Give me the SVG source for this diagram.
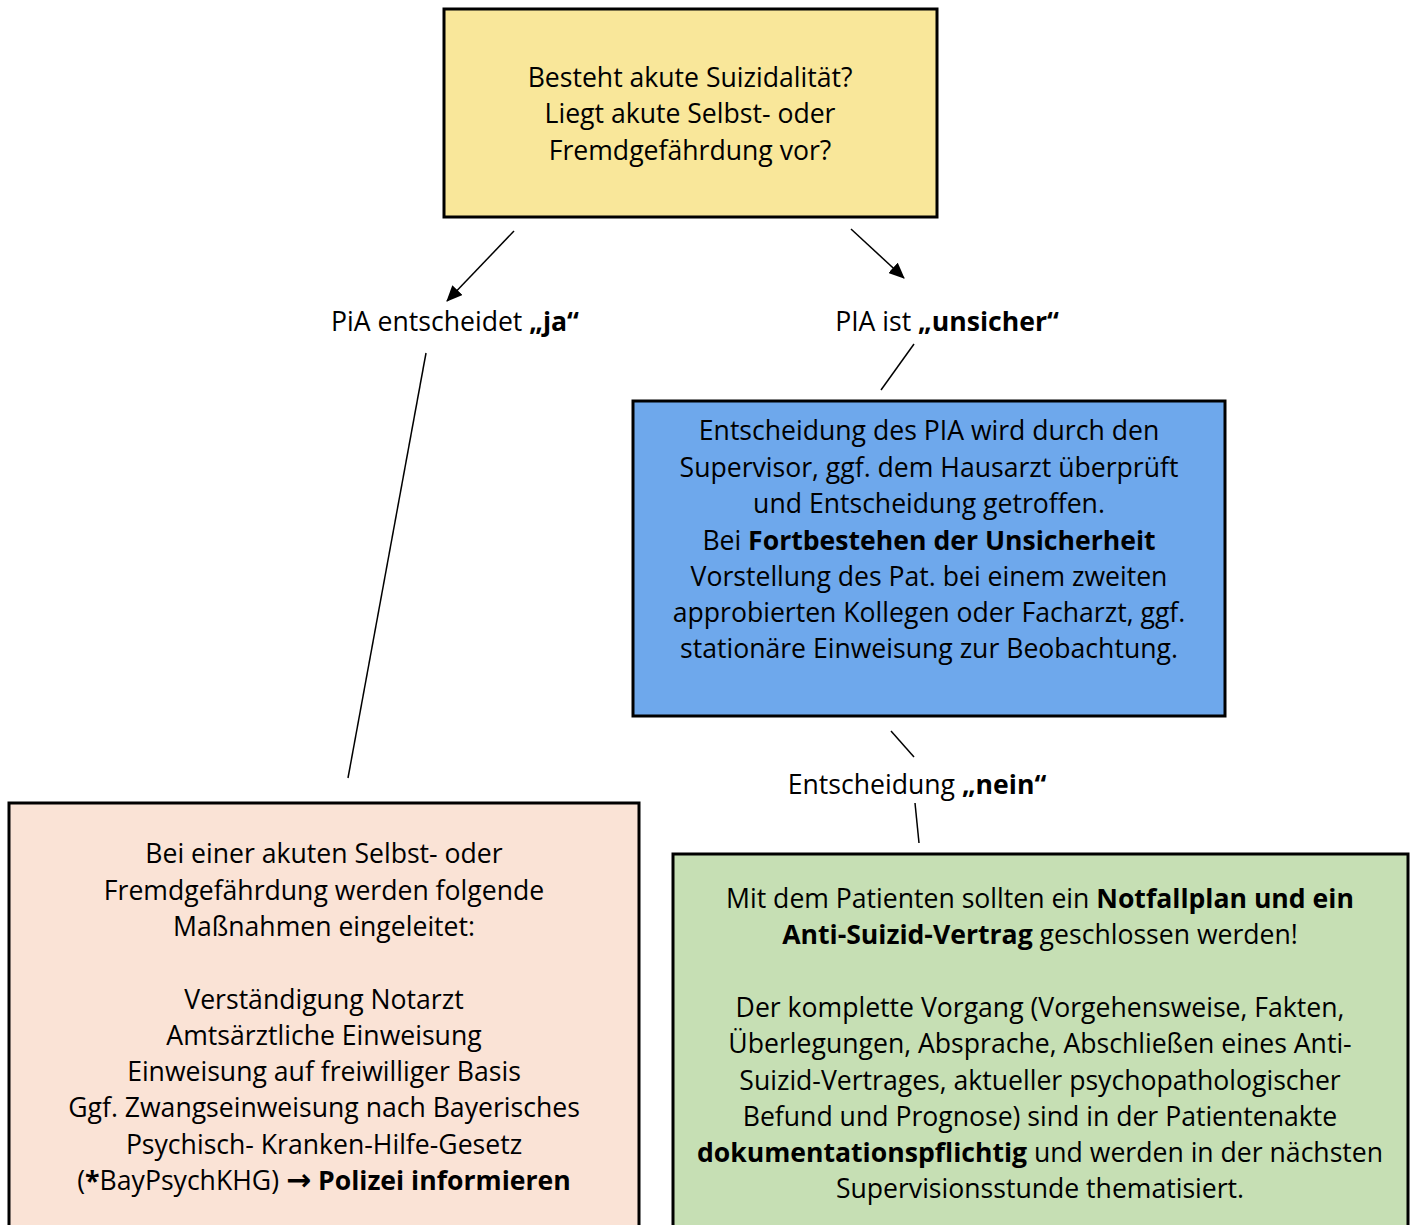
<svg xmlns="http://www.w3.org/2000/svg" width="1414" height="1225" viewBox="0 0 1414 1225">
<defs>
<marker id="arr" markerWidth="16" markerHeight="14" refX="15" refY="7" orient="auto" markerUnits="userSpaceOnUse" viewBox="0 0 16 14">
<path d="M0,0 L16,7 L0,14 z" fill="#000"/>
</marker>
<style>
text{font-family:"Open Sans","Noto Sans",sans-serif;font-size:26.6px;fill:#000;text-anchor:middle}
.b{font-weight:bold}
.ar{font-family:"DejaVu Sans",sans-serif;font-weight:bold;font-size:30px}
.box{stroke:#000;stroke-width:3}
.c{stroke:#000;stroke-width:1.5;fill:none}
</style>
</defs>
<rect width="1414" height="1225" fill="#fff"/>
<g id="q">
<rect class="box" x="444" y="9" width="493" height="208" fill="#f9e79a"/>
<text x="690" y="87">Besteht akute Suizidalität?</text>
<text x="690" y="123">Liegt akute Selbst- oder</text>
<text x="690" y="160">Fremdgefährdung vor?</text>
</g>
<g id="labels">
<text x="455" y="331">PiA entscheidet <tspan class="b">„ja“</tspan></text>
<text x="947" y="331">PIA ist <tspan class="b">„unsicher“</tspan></text>
<text x="917" y="794">Entscheidung <tspan class="b">„nein“</tspan></text>
</g>
<g id="unsicher">
<rect class="box" x="633" y="401" width="592" height="315" fill="#6ea8ec"/>
<text x="929" y="440">Entscheidung des PIA wird durch den</text>
<text x="929" y="477">Supervisor, ggf. dem Hausarzt überprüft</text>
<text x="929" y="513">und Entscheidung getroffen.</text>
<text x="929" y="550">Bei <tspan class="b">Fortbestehen der Unsicherheit</tspan></text>
<text x="929" y="586">Vorstellung des Pat. bei einem zweiten</text>
<text x="929" y="622">approbierten Kollegen oder Facharzt, ggf.</text>
<text x="929" y="658">stationäre Einweisung zur Beobachtung.</text>
</g>
<g id="ja">
<rect class="box" x="9" y="803" width="630" height="430" fill="#fae3d6"/>
<text x="324" y="863">Bei einer akuten Selbst- oder</text>
<text x="324" y="900">Fremdgefährdung werden folgende</text>
<text x="324" y="936">Maßnahmen eingeleitet:</text>
<text x="324" y="1009">Verständigung Notarzt</text>
<text x="324" y="1045">Amtsärztliche Einweisung</text>
<text x="324" y="1081">Einweisung auf freiwilliger Basis</text>
<text x="324" y="1117">Ggf. Zwangseinweisung nach Bayerisches</text>
<text x="324" y="1154">Psychisch- Kranken-Hilfe-Gesetz</text>
<text x="324" y="1190">(<tspan class="b">*</tspan>BayPsychKHG) <tspan class="ar">→</tspan> <tspan class="b">Polizei informieren</tspan></text>
</g>
<g id="nein">
<rect class="box" x="673" y="854" width="735" height="380" fill="#c6dfb4"/>
<text x="1040" y="908">Mit dem Patienten sollten ein <tspan class="b">Notfallplan und ein</tspan></text>
<text x="1040" y="944"><tspan class="b">Anti-Suizid-Vertrag</tspan> geschlossen werden!</text>
<text x="1040" y="1017">Der komplette Vorgang (Vorgehensweise, Fakten,</text>
<text x="1040" y="1053">Überlegungen, Absprache, Abschließen eines Anti-</text>
<text x="1040" y="1090">Suizid-Vertrages, aktueller psychopathologischer</text>
<text x="1040" y="1126">Befund und Prognose) sind in der Patientenakte</text>
<text x="1040" y="1162"><tspan class="b">dokumentationspflichtig</tspan> und werden in der nächsten</text>
<text x="1040" y="1198">Supervisionsstunde thematisiert.</text>
</g>
<g id="connectors">
<line class="c" x1="514" y1="231" x2="447" y2="301" marker-end="url(#arr)"/>
<line class="c" x1="851" y1="229" x2="904" y2="278" marker-end="url(#arr)"/>
<line class="c" x1="914" y1="344" x2="881" y2="390"/>
<line class="c" x1="426" y1="353" x2="348" y2="778"/>
<line class="c" x1="891" y1="731" x2="914" y2="757"/>
<line class="c" x1="915" y1="803" x2="919" y2="843"/>
</g>
</svg>
